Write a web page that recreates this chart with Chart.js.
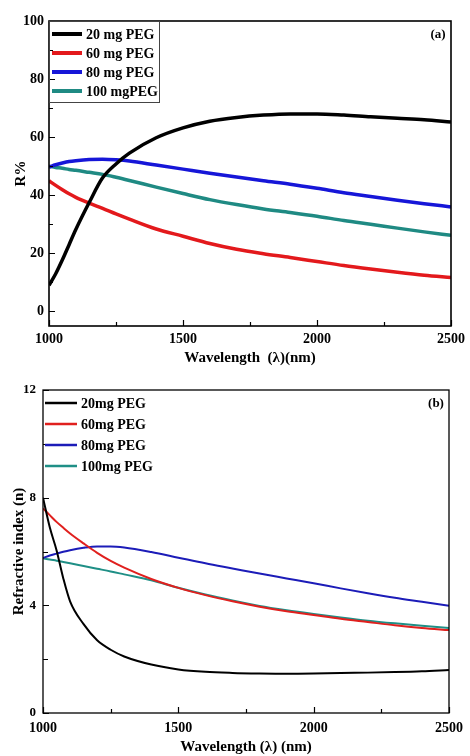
<!DOCTYPE html>
<html>
<head>
<meta charset="utf-8">
<script src="https://cdn.jsdelivr.net/npm/chart.js@4.4.1/dist/chart.umd.min.js"></script>
<style>
  html, body { margin: 0; padding: 0; background: #fff; }
  #wrap { position: relative; width: 470px; height: 756px; }
  #chartA { position: absolute; left: 0; top: 0; }
  #chartB { position: absolute; left: 0; top: 370px; }
</style>
</head>
<body>
<div id="wrap">
  <canvas id="chartA" width="470" height="370"></canvas>
  <canvas id="chartB" width="470" height="386"></canvas>
</div>
<script>
// wavelength (nm), shared by both panels
const wavelength = [1000, 1025, 1050, 1075, 1100, 1150, 1200, 1250, 1300, 1400, 1500,
  1600, 1700, 1800, 1900, 2000, 2100, 2200, 2300, 2400, 2500];

// panel (a) reflectance R%
const labelsA = ['20 mg PEG', '60 mg PEG', '80 mg PEG', '100 mgPEG'];
const refl20 = [9, 13, 17.8, 23, 28.2, 37.5, 46, 50.8, 54.5, 59.8, 63.2, 65.5, 66.8, 67.6, 68, 68, 67.6, 67, 66.5, 66, 65.2];
const refl60 = [45, 43.4, 41.9, 40.5, 39.3, 37.3, 35.5, 33.6, 31.8, 28.4, 25.9, 23.4, 21.4, 19.9, 18.6, 17.2, 15.8, 14.6, 13.5, 12.5, 11.7];
const refl80 = [49.7, 50.5, 51.1, 51.6, 51.9, 52.3, 52.4, 52.2, 51.8, 50.4, 49, 47.6, 46.3, 45, 43.8, 42.4, 40.9, 39.6, 38.3, 37.1, 36];
const refl100 = [50, 49.6, 49.3, 48.9, 48.6, 47.9, 47.2, 46.2, 45.1, 42.8, 40.6, 38.5, 36.8, 35.3, 34.1, 32.8, 31.3, 30, 28.7, 27.4, 26.2];

// panel (b) refractive index n
const labelsB = ['20mg PEG', '60mg PEG', '80mg PEG', '100mg PEG'];
const index20 = [8.0, 6.9, 6.05, 5.0, 4.15, 3.3, 2.7, 2.35, 2.1, 1.8, 1.62, 1.53, 1.49, 1.47, 1.46, 1.47, 1.49, 1.5, 1.52, 1.55, 1.6];
const index60 = [7.6, 7.35, 7.1, 6.88, 6.67, 6.3, 5.95, 5.65, 5.4, 4.98, 4.65, 4.38, 4.15, 3.95, 3.78, 3.64, 3.5, 3.38, 3.26, 3.16, 3.08];
const index80 = [5.76, 5.85, 5.92, 5.99, 6.05, 6.14, 6.19, 6.19, 6.15, 5.98, 5.77, 5.56, 5.37, 5.18, 5.0, 4.82, 4.63, 4.45, 4.28, 4.13, 3.98];
const index100 = [5.75, 5.7, 5.66, 5.61, 5.56, 5.46, 5.36, 5.26, 5.15, 4.93, 4.65, 4.4, 4.18, 3.98, 3.82, 3.68, 3.55, 3.43, 3.33, 3.24, 3.16];

// tick labels
const xTicks = [1000, 1500, 2000, 2500];
const xMinor = [1250, 1750, 2250];
const yTicksA = [0, 20, 40, 60, 80, 100];
const yMinorA = [10, 30, 50, 70, 90];
const yTicksB = [0, 4, 8, 12];
const yMinorB = [2, 6, 10];

const serif = '"Liberation Serif", "Times New Roman", serif';

function toPoints(ys) {
  return ys.map((y, i) => ({ x: wavelength[i], y: y }));
}

// box, inward ticks, legend and panel tag
function framePlugin(cfg) {
  return {
    id: 'frame' + cfg.tag,
    afterDatasetsDraw(chart) {
      const { ctx, chartArea: a, scales } = chart;
      ctx.save();
      ctx.strokeStyle = '#000';
      ctx.lineWidth = cfg.frameWidth;
      ctx.strokeRect(a.left, a.top, a.right - a.left, a.bottom - a.top);

      ctx.lineWidth = 1.2;
      ctx.beginPath();
      const tx = (vals, len) => vals.forEach(v => {
        const px = Math.round(scales.x.getPixelForValue(v)) + 0.5;
        ctx.moveTo(px, a.bottom);
        ctx.lineTo(px, a.bottom - len);
      });
      const ty = (vals, len) => vals.forEach(v => {
        const py = Math.round(scales.y.getPixelForValue(v)) + 0.5;
        ctx.moveTo(a.left, py);
        ctx.lineTo(a.left + len, py);
      });
      tx(xTicks, 6);
      tx(xMinor, 4);
      ty(cfg.yMajor, 6);
      ty(cfg.yMinor, cfg.yMinorLen);
      ctx.stroke();

      // legend
      const lg = cfg.legend;
      const x0 = a.left + lg.dx;
      if (lg.border) {
        ctx.lineWidth = 1;
        ctx.strokeStyle = '#444';
        ctx.strokeRect(a.left + 0.5, a.top + 0.5, lg.boxW, lg.boxH);
      }
      ctx.font = 'bold ' + lg.fontSize + 'px ' + serif;
      ctx.textBaseline = 'middle';
      ctx.textAlign = 'left';
      chart.data.datasets.forEach((ds, i) => {
        const y = a.top + lg.dy + i * lg.rowH;
        ctx.strokeStyle = ds.borderColor;
        ctx.lineWidth = lg.lineW;
        ctx.beginPath();
        ctx.moveTo(x0, y);
        ctx.lineTo(x0 + lg.lineLen, y);
        ctx.stroke();
        ctx.fillStyle = '#000';
        ctx.fillText(ds.label, x0 + lg.lineLen + lg.gap, y + 1);
      });

      ctx.font = 'bold 13px ' + serif;
      ctx.textAlign = 'center';
      ctx.fillText(cfg.tag, a.right - 13, a.top + 14);
      ctx.restore();
    }
  };
}

function lineChart(canvas, labels, series, colors, opt) {
  const datasets = series.map((ys, i) => ({
    label: labels[i],
    data: toPoints(ys),
    borderColor: colors[i],
    borderWidth: opt.lineWidth,
    pointRadius: 0,
    fill: false,
    cubicInterpolationMode: 'monotone'
  }));
  return new Chart(canvas, {
    type: 'line',
    data: { datasets: datasets },
    options: {
      responsive: false,
      animation: false,
      devicePixelRatio: 1,
      layout: { padding: { top: opt.padTop, right: opt.padRight, left: 0, bottom: 0 } },
      plugins: { legend: { display: false }, tooltip: { enabled: false } },
      scales: {
        x: {
          type: 'linear',
          min: 1000,
          max: 2500,
          grid: { display: false, drawTicks: false },
          border: { display: false },
          afterBuildTicks: (s) => { s.ticks = xTicks.map(v => ({ value: v })); },
          afterFit: (s) => { s.height = opt.xHeight; },
          ticks: {
            color: '#000',
            padding: opt.xPad,
            maxRotation: 0,
            autoSkip: false,
            font: { family: serif, size: 14, weight: 'bold' },
            callback: (v) => String(v)
          },
          title: {
            display: true,
            text: opt.xTitle,
            color: '#000',
            padding: { top: 0, bottom: opt.xTitlePad },
            font: { family: serif, size: 15, weight: 'bold' }
          }
        },
        y: {
          type: 'linear',
          min: opt.yMin,
          max: opt.yMax,
          grid: { display: false, drawTicks: false },
          border: { display: false },
          afterBuildTicks: (s) => { s.ticks = opt.yTicks.map(v => ({ value: v })); },
          afterFit: (s) => { s.width = opt.yWidth; },
          ticks: {
            color: '#000',
            padding: opt.yPad,
            autoSkip: false,
            font: { family: serif, size: opt.yFont, weight: 'bold' },
            callback: (v) => String(v)
          },
          title: {
            display: true,
            text: opt.yTitle,
            color: '#000',
            padding: { top: opt.yTitlePad, bottom: 0 },
            font: { family: serif, size: 15, weight: 'bold' }
          }
        }
      }
    },
    plugins: [framePlugin(opt.frame)]
  });
}

lineChart(document.getElementById('chartA'), labelsA,
  [refl20, refl60, refl80, refl100],
  ['#000000', '#e3191c', '#1616d8', '#1f8a83'],
  {
    lineWidth: 3.5, padTop: 21, padRight: 17, xHeight: 44, yWidth: 49,
    xPad: 5, yPad: 5, yFont: 14, xTitlePad: 3, yTitlePad: 12,
    yMin: -5, yMax: 100, yTicks: yTicksA,
    xTitle: 'Wavelength  (\u03bb)(nm)', yTitle: 'R%',
    frame: {
      tag: '(a)', frameWidth: 1.6, yMajor: yTicksA, yMinor: yMinorA, yMinorLen: 4,
      legend: { border: true, boxW: 110, boxH: 81, dx: 3, dy: 13, rowH: 19, lineLen: 30, gap: 4, lineW: 4, fontSize: 14 }
    }
  });

lineChart(document.getElementById('chartB'), labelsB,
  [index20, index60, index80, index100],
  ['#000000', '#e0201e', '#1c1cb8', '#1f8f86'],
  {
    lineWidth: 2, padTop: 20, padRight: 15, xHeight: 43, yWidth: 43,
    xPad: 7, yPad: 7, yFont: 13, xTitlePad: 0, yTitlePad: 10,
    yMin: 0, yMax: 12, yTicks: yTicksB,
    xTitle: 'Wavelength (\u03bb) (nm)', yTitle: 'Refractive index (n)',
    frame: {
      tag: '(b)', frameWidth: 1.3, yMajor: yTicksB, yMinor: yMinorB, yMinorLen: 5,
      legend: { border: false, boxW: 0, boxH: 0, dx: 2, dy: 13, rowH: 21, lineLen: 32, gap: 4, lineW: 2.5, fontSize: 14 }
    }
  });
</script>
</body>
</html>
